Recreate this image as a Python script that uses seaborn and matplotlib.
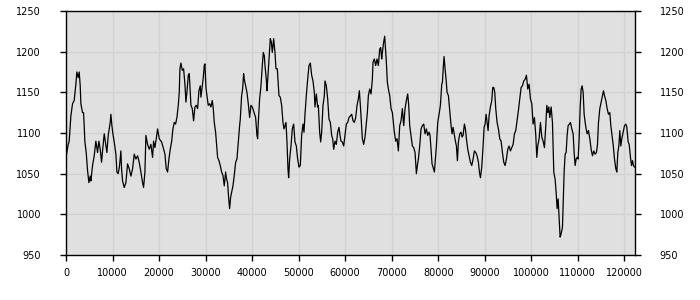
import matplotlib
matplotlib.use("Agg")
import matplotlib.pyplot as plt
import seaborn as sns
import pandas as pd

x_values = [
    0, 473, 688, 1047, 1405, 1763, 2122, 2337, 2624, 2839, 3054, 3197, 3555, 3770, 3914, 4057, 4344, 4631, 4917, 5204,
    5347, 5706, 6064, 6423, 6781, 7068, 7354, 7641, 7856, 8215, 8573, 8788, 9075, 9505, 9648, 9863, 10078, 10365, 10723, 10938,
    11225, 11512, 11799, 11942, 12157, 12515, 12874, 13232, 13591, 13949, 14307, 14666, 15024, 15383, 15741, 16099, 16458, 16673, 16960, 17175,
    17533, 17892, 18250, 18609, 18824, 19110, 19397, 19683, 20042,
    20544, 20902, 21261, 21547, 21834, 22121, 22407, 22694, 22981, 23268, 23554, 23841, 24128, 24343, 24486, 24701, 24988, 25275, 25561, 25776,
    25991, 26278, 26493, 26708, 26852, 27138, 27425, 27712, 27999, 28285, 28572, 28859, 29002, 29289, 29504, 29719, 29862, 30077, 30292, 30579,
    30866, 31152, 31439, 31654, 31869, 32156, 32371, 32586, 32873, 33160, 33446, 33733, 34020, 34306, 34521, 34736, 34951, 35166, 35382, 35597,
    35883, 36170, 36457, 36744, 37030, 37317, 37460, 37747, 37962, 38177, 38321, 38607, 38894, 39181, 39467, 39754, 40041, 40327,
    40759, 41046, 41189, 41332, 41619, 41906, 42192, 42407, 42622, 42766, 43053, 43196, 43339, 43626, 43913, 44128, 44343, 44630, 44916, 45131,
    45418, 45633, 45776, 46063, 46350, 46637, 46852, 47067, 47282, 47497, 47712, 47855, 48070, 48357, 48644, 48930, 49217, 49504, 49790, 50077,
    50364, 50651, 50937, 51152, 51367, 51654, 51941, 52228, 52514, 52801, 53088, 53374, 53518, 53804, 54091, 54235, 54521, 54736, 54951, 55238,
    55525, 55668, 55955, 56242, 56528, 56815, 57102, 57317, 57532, 57819, 58105, 58392, 58679, 58894, 59109, 59396, 59682, 59969, 60256, 60543,
    60830, 61117, 61404, 61691, 61977, 62264, 62551, 62837, 63053, 63268, 63483, 63698, 63984, 64271, 64558, 64773, 64988, 65275, 65561, 65848,
    65991, 66278, 66565, 66852, 67138, 67425, 67640, 67855, 67998, 68285, 68500, 68715, 68859, 69074, 69360, 69575, 69862, 70149, 70364, 70579,
    70866, 71152, 71439, 71726, 72012, 72299, 72586, 72873, 73159, 73446, 73661, 73876, 74163, 74450, 74736, 75023, 75310, 75525, 75740, 76027,
    76313, 76600, 76887, 77174, 77460, 77747, 78034, 78249, 78464, 78679, 78894, 79181, 79396, 79611, 79898, 80184, 80471, 80758,
    80902, 81117, 81260, 81476, 81691, 81906, 82192, 82479, 82766, 82981, 83196, 83483, 83698, 83913, 84128, 84343, 84629, 84916, 85131, 85346,
    85633, 85848, 86063, 86350, 86636, 86923, 87210, 87497, 87783, 88070, 88357, 88644, 88859, 89074, 89360, 89647, 89862, 90077, 90292, 90507,
    90722, 90937, 91224, 91511, 91726, 91941, 92156, 92371, 92658, 92944, 93231, 93518, 93805, 94091, 94378, 94665, 94951, 95238, 95525, 95812,
    96098, 96385, 96672, 96958, 97245, 97532, 97819, 98105, 98392, 98679, 98966, 99252, 99539, 99826, 100112, 100399, 100686, 100973,
    101189, 101404, 101690, 101977, 102264, 102551, 102837, 103124, 103339, 103554, 103769, 103984, 104271, 104558, 104845, 105131, 105346, 105561, 105776, 105991,
    106206, 106422, 106708, 106851, 107066, 107282, 107497, 107712, 107927, 108213, 108428, 108715, 109002, 109217, 109432, 109647, 109862, 110077, 110292, 110507,
    110722, 110937, 111152, 111368, 111583, 111798, 112013, 112300, 112586, 112873, 113160, 113446, 113733, 114020, 114235, 114450, 114737, 115023, 115310, 115525,
    115740, 116027, 116314, 116600, 116887, 117102, 117317, 117604, 117891, 118177, 118392, 118607, 118823, 119038, 119253, 119468, 119755, 120042, 120328, 120543,
    120830, 121045, 121331, 121546, 121762, 121977, 122192,
]

y_values = [
    1070, 1086, 1090, 1121, 1136, 1140, 1160, 1175, 1168, 1175, 1158, 1136, 1125, 1125, 1109, 1089, 1076, 1054, 1039, 1047,
    1041, 1060, 1072, 1090, 1076, 1090, 1080, 1064, 1078, 1099, 1084, 1076, 1097, 1113, 1123, 1109, 1099, 1089, 1074, 1052,
    1050, 1060, 1078, 1056, 1041, 1033, 1039, 1062, 1056, 1047, 1056, 1074, 1068, 1072, 1064, 1052, 1039, 1033, 1052, 1097,
    1086, 1080, 1086, 1070, 1090, 1082, 1093, 1105, 1093,
    1089, 1082, 1074, 1056, 1052, 1068, 1080, 1089, 1105, 1113, 1111, 1119, 1134, 1150, 1179, 1186, 1177, 1179, 1160, 1138,
    1150, 1171, 1173, 1150, 1134, 1130, 1115, 1132, 1134, 1130, 1152, 1158, 1144, 1158, 1168, 1183, 1185, 1156, 1146, 1134,
    1136, 1132, 1140, 1130, 1113, 1101, 1086, 1070, 1066, 1060, 1052, 1048, 1035, 1052, 1043, 1039, 1021, 1007, 1021, 1027,
    1035, 1048, 1064, 1068, 1089, 1109, 1117, 1146, 1154, 1173, 1166, 1158, 1150, 1136, 1119, 1134, 1132, 1127,
    1119, 1097, 1093, 1113, 1142, 1158, 1183, 1199, 1195, 1183, 1166, 1152, 1164, 1191, 1216, 1212, 1199, 1216, 1199, 1179,
    1179, 1158, 1146, 1144, 1134, 1113, 1105, 1109, 1113, 1089, 1056, 1045, 1068, 1084, 1105, 1111, 1089, 1084, 1068, 1058,
    1060, 1097, 1111, 1101, 1123, 1146, 1166, 1183, 1186, 1171, 1164, 1150, 1132, 1148, 1132, 1134, 1101, 1089, 1101, 1134,
    1146, 1164, 1158, 1142, 1117, 1113, 1097, 1093, 1080, 1090, 1086, 1101, 1107, 1097, 1090, 1089, 1084, 1097, 1111, 1113,
    1119, 1121, 1123, 1115, 1113, 1119, 1134, 1142, 1152, 1134, 1113, 1093, 1086, 1095, 1113, 1125, 1146, 1154, 1148, 1166,
    1187, 1191, 1183, 1191, 1183, 1203, 1205, 1191, 1199, 1212, 1219, 1199, 1187, 1162, 1152, 1146, 1130, 1125, 1113, 1101,
    1090, 1093, 1078, 1109, 1115, 1130, 1109, 1130, 1140, 1148, 1134, 1109, 1097, 1084, 1082, 1076, 1050, 1060, 1068, 1084,
    1105, 1109, 1111, 1099, 1105, 1097, 1101, 1097, 1080, 1062, 1058, 1052, 1068, 1084, 1113, 1123, 1134, 1160,
    1162, 1183, 1194, 1179, 1166, 1150, 1146, 1128, 1109, 1099, 1107, 1097, 1090, 1084, 1066, 1089, 1099, 1101, 1095, 1097,
    1111, 1105, 1093, 1080, 1072, 1064, 1060, 1068, 1078, 1076, 1072, 1064, 1052, 1045, 1058, 1084, 1107, 1111, 1123, 1113,
    1103, 1121, 1132, 1140, 1156, 1156, 1150, 1130, 1113, 1105, 1093, 1090, 1076, 1064, 1060, 1068, 1080, 1084, 1078, 1082,
    1086, 1099, 1103, 1115, 1128, 1142, 1156, 1158, 1164, 1166, 1171, 1154, 1160, 1142, 1136, 1111, 1119, 1097,
    1070, 1084, 1093, 1113, 1095, 1090, 1082, 1109, 1134, 1125, 1132, 1119, 1132, 1113, 1052, 1043, 1027, 1007, 1019, 996,
    972, 976, 984, 1011, 1052, 1074, 1076, 1097, 1109, 1111, 1113, 1105, 1099, 1076, 1060, 1068, 1070, 1068, 1093, 1130,
    1154, 1158, 1150, 1123, 1113, 1105, 1099, 1103, 1093, 1080, 1072, 1078, 1074, 1076, 1086, 1113, 1130, 1138, 1146, 1152,
    1146, 1140, 1130, 1123, 1125, 1109, 1099, 1086, 1068, 1056, 1052, 1076, 1084, 1103, 1084, 1093, 1101, 1109, 1111, 1107,
    1089, 1086, 1070, 1060, 1066, 1060, 1058,
]

y_ticks = [950, 1000, 1050, 1100, 1150, 1200, 1250]
x_ticks = [0, 10000, 20000, 30000, 40000, 50000, 60000, 70000, 80000, 90000, 100000, 110000, 120000]

df = pd.DataFrame({"x": x_values, "y": y_values})

sns.set_style("white")
plt.rcParams["font.family"] = ["DejaVu Sans"]

fig = plt.figure(figsize=(7, 3), dpi=100)
ax = fig.add_axes([66 / 700, 45 / 300, (634.5 - 66) / 700, (255 - 11) / 300])
ax.set_facecolor("#e0e0e0")

sns.lineplot(data=df, x="x", y="y", ax=ax, color="black", linewidth=0.9, estimator=None, sort=False)

ax.set_xlim(0, x_values[-1])
ax.set_ylim(950, 1250)
ax.set_xticks(x_ticks)
ax.set_xticklabels([str(t) for t in x_ticks])
ax.set_yticks(y_ticks)
ax.set_yticklabels([str(t) for t in y_ticks])
ax.grid(True, color="#d2d2d2", linewidth=1.0)
ax.set_axisbelow(True)
ax.set_xlabel("")
ax.set_ylabel("")

for s in ax.spines.values():
    s.set_visible(True)
    s.set_color("black")
    s.set_linewidth(1.0)

ax.tick_params(axis="both", which="both", direction="out", length=4, width=1,
               color="black", labelsize=7, labelcolor="black")
ax.tick_params(axis="y", left=True, right=True, labelleft=True, labelright=True, pad=14)
ax.tick_params(axis="x", bottom=True, pad=5)

fig.savefig("out.png", dpi=100)
